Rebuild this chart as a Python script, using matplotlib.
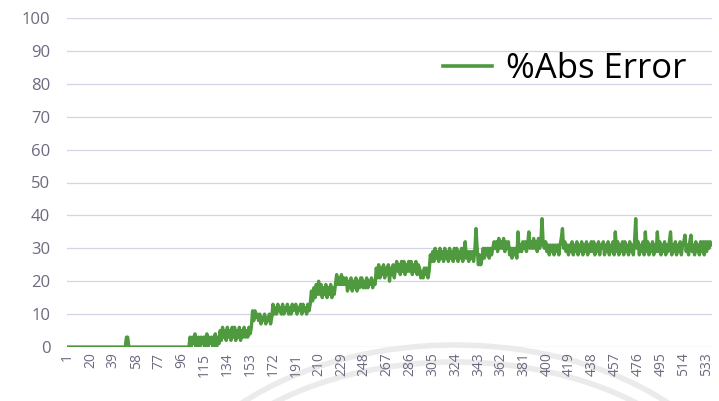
import matplotlib
matplotlib.use("Agg")
import matplotlib.pyplot as plt
from matplotlib.patches import Arc

plt.rcParams["font.family"] = ["Open Sans", "DejaVu Sans"]

# %Abs Error per run, one row per 19-step tick block (runs 1..537)
abs_error = [
    0, 0, 0, 0, 0, 0, 0, 0, 0, 0, 0, 0, 0, 0, 0, 0, 0, 0, 0,
    0, 0, 0, 0, 0, 0, 0, 0, 0, 0, 0, 0, 0, 0, 0, 0, 0, 0, 0,
    0, 0, 0, 0, 0, 0, 0, 0, 0, 0, 0, 3, 3, 0, 0, 0, 0, 0, 0,
    0, 0, 0, 0, 0, 0, 0, 0, 0, 0, 0, 0, 0, 0, 0, 0, 0, 0, 0,
    0, 0, 0, 0, 0, 0, 0, 0, 0, 0, 0, 0, 0, 0, 0, 0, 0, 0, 0,
    0, 0, 0, 0, 0, 0, 0, 3, 0, 3, 1, 4, 0, 2, 3, 0, 3, 1, 3,
    0, 3, 4, 0, 3, 1, 3, 0, 3, 4, 0, 3, 1, 5, 2, 6, 3, 5, 2,
    6, 3, 5, 2, 6, 3, 6, 2, 5, 3, 6, 2, 5, 3, 6, 3, 5, 3, 6,
    4, 6, 11, 8, 11, 9, 10, 8, 10, 7, 9, 8, 10, 7, 9, 8, 10, 7, 9,
    13, 10, 12, 10, 13, 11, 12, 10, 13, 10, 12, 11, 13, 10, 12, 10, 13, 11, 12,
    13, 10, 12, 11, 13, 10, 13, 11, 12, 10, 13, 11, 13, 17, 14, 18, 15, 19, 16,
    20, 16, 19, 15, 18, 16, 19, 15, 18, 16, 19, 15, 18, 16, 19, 22, 19, 21, 19,
    22, 19, 21, 19, 21, 17, 20, 18, 21, 17, 20, 18, 21, 17, 20, 18, 21, 21, 18,
    20, 18, 21, 18, 20, 19, 21, 18, 20, 19, 24, 21, 25, 21, 24, 22, 25, 21, 24,
    22, 25, 20, 24, 22, 25, 21, 24, 26, 23, 25, 22, 26, 23, 26, 22, 25, 23, 26,
    23, 26, 22, 25, 23, 26, 22, 25, 24, 21, 23, 21, 24, 22, 24, 21, 23, 28, 26,
    29, 26, 30, 27, 29, 26, 30, 27, 29, 26, 30, 27, 29, 26, 30, 27, 29, 26, 30,
    27, 30, 26, 29, 27, 30, 26, 29, 32, 27, 29, 26, 29, 27, 29, 26, 29, 36, 30,
    25, 28, 25, 27, 30, 27, 30, 28, 30, 27, 30, 28, 30, 32, 30, 32, 29, 33, 30,
    32, 30, 33, 29, 32, 30, 32, 28, 30, 27, 30, 28, 30, 27, 35, 29, 31, 29, 32,
    30, 32, 29, 31, 35, 30, 32, 30, 33, 30, 32, 29, 33, 30, 32, 39, 31, 30, 32,
    29, 31, 28, 31, 29, 31, 28, 31, 29, 31, 28, 31, 33, 36, 30, 32, 29, 31, 28,
    31, 29, 32, 28, 31, 29, 32, 28, 31, 29, 32, 28, 31, 29, 32, 28, 31, 29, 32,
    29, 32, 28, 31, 29, 32, 28, 31, 30, 32, 28, 31, 29, 32, 28, 31, 29, 32, 28,
    35, 29, 32, 28, 31, 29, 32, 28, 32, 29, 31, 28, 32, 29, 31, 28, 32, 39, 30,
    32, 28, 31, 29, 32, 28, 35, 29, 32, 28, 31, 29, 32, 28, 31, 29, 35, 29, 32,
    28, 31, 29, 32, 28, 31, 29, 32, 35, 28, 31, 29, 32, 28, 31, 29, 32, 28, 31,
    32, 34, 29, 31, 28, 32, 34, 29, 31, 28, 32, 29, 31, 28, 32, 29, 32, 28, 32,
    29, 32, 30, 32, 31,
]
runs = list(range(1, len(abs_error) + 1))
tick_runs = runs[::19]
y_ticks = list(range(0, 101, 10))

W, H = 719, 401
fig = plt.figure(figsize=(W / 100, H / 100), dpi=100)

# faint background arcs behind the chart
bg = fig.add_axes([0, 0, 1, 1], zorder=-1)
bg.set_xlim(0, W)
bg.set_ylim(H, 0)
bg.axis("off")
for w, h in [(600, 392), (570, 358)]:
    bg.add_patch(Arc((455, 541), w, h, theta1=180, theta2=360,
                     color="#ebebeb", lw=4))

ax = fig.add_axes([67 / W, 1 - 347 / H, 645 / W, 329 / H])
ax.patch.set_alpha(0)

ax.plot(runs, abs_error, color="#4f9a3f", lw=2.4, label="%Abs Error", zorder=3)

ax.set_xlim(0.5, len(abs_error) + 0.5)
ax.set_ylim(0, 100)
ax.set_yticks(y_ticks)
ax.set_xticks(tick_runs)
ax.set_xticklabels([str(r) for r in tick_runs], rotation=90)
ax.tick_params(axis="y", length=0, pad=12, labelsize=12, labelcolor="#6b6b80")
ax.tick_params(axis="x", length=0, pad=4, labelsize=10, labelcolor="#6b6b80")
ax.grid(axis="y", color="#d4d4e6", lw=0.9)
ax.set_axisbelow(True)
for s in ax.spines.values():
    s.set_visible(False)

leg = ax.legend(loc="center left", bbox_to_anchor=(443 / W, 1 - 69 / H),
                bbox_transform=fig.transFigure, frameon=False, fontsize=25,
                handlelength=1.4, handletextpad=0.4, borderpad=0,
                borderaxespad=0)
leg.get_lines()[0].set_linewidth(2.6)

fig.savefig("out.png", dpi=100)
